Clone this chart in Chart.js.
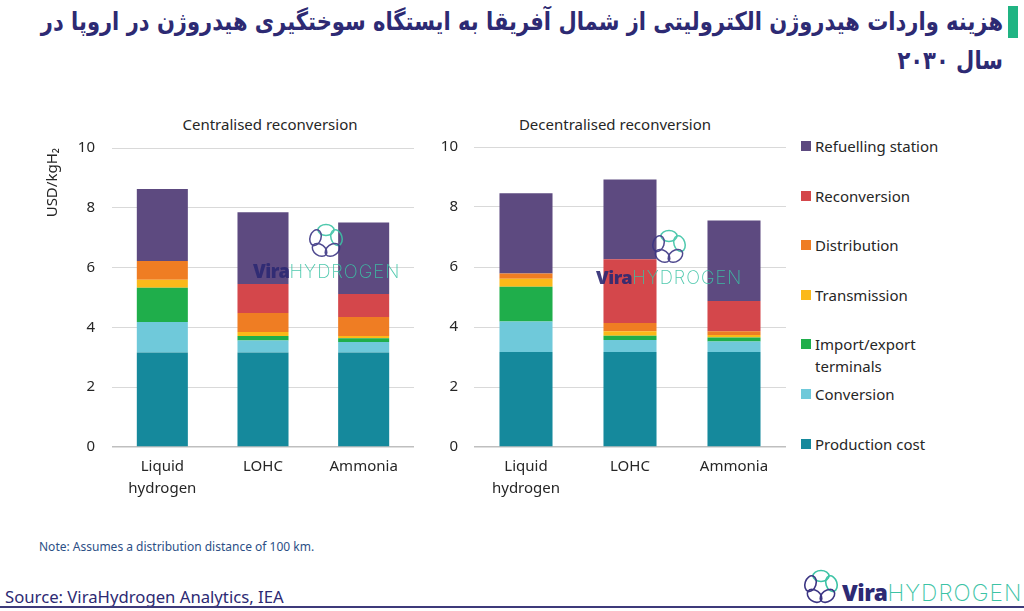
<!DOCTYPE html>
<html>
<head>
<meta charset="utf-8">
<script src="https://cdn.jsdelivr.net/npm/chart.js@4.4.1/dist/chart.umd.min.js"></script>
<style>
  html, body { margin:0; padding:0; background:#fff; }
  body { width:1024px; height:611px; position:relative; overflow:hidden; font-family:"Noto Sans", sans-serif; }
  .abs { position:absolute; }
  #title { right:21px; top:6px; direction:rtl; text-align:right; font-family:"DejaVu Sans", sans-serif; font-weight:bold; font-size:22px; line-height:31.7px; color:#2d2a73; white-space:nowrap; transform:scaleY(1.2); transform-origin:50% 15.8px; }
  #title span { display:block; }
  #bar { left:1008px; top:6px; width:10px; height:32px; background:#20b483; }
  .ctitle { font-size:15px; color:#262626; white-space:nowrap; transform:translateX(-50%); top:114px; }
  #legend { left:801px; top:135px; width:220px; }
  .li { position:relative; height:49.6px; font-size:15px; line-height:22px; color:#262626; }
  .li .sw { position:absolute; left:0; top:6px; width:10px; height:10px; }
  .li .tx { position:absolute; left:14px; top:0; width:150px; }
  #note { left:39px; top:538px; font-size:12px; color:#2c4f86; font-family:"Liberation Sans Narrow","Noto Sans",sans-serif; white-space:nowrap; }
  #source { left:5px; top:585px; font-size:16.7px; color:#2d2a73; white-space:nowrap; }
  #rule { left:0; top:606px; width:1024px; height:2px; background:#3d3a7a; }
  .wm { white-space:nowrap; line-height:1; }
  .vira { font-family:"Noto Sans",sans-serif; font-weight:900; color:#2d2a73; letter-spacing:-0.5px; }
  .hyd { font-family:"Inter","Lato",sans-serif; font-weight:200; color:#3cc3a5; letter-spacing:1px; }
</style>
</head>
<body>
<div id="title" class="abs"><span id="t1">هزینه واردات هیدروژن الکترولیتی از شمال آفریقا به ایستگاه سوختگیری هیدروژن در اروپا در</span><span>سال ۲۰۳۰</span></div>
<div id="bar" class="abs"></div>

<div class="abs ctitle" style="left:270px;">Centralised reconversion</div>
<div class="abs ctitle" style="left:615px;">Decentralised reconversion</div>

<div class="abs" style="left:0;top:122px;width:420px;height:385px;"><canvas id="c1" width="420" height="385"></canvas></div>
<div class="abs" style="left:430px;top:122px;width:360px;height:385px;"><canvas id="c2" width="360" height="385"></canvas></div>

<div id="legend" class="abs"></div>

<!-- watermarks -->
<svg class="abs" style="left:306px;top:221px;opacity:0.9" width="40" height="40" viewBox="0 0 40 40"><g class="pent" fill="none" stroke-width="1.5"></g></svg>
<div class="abs wm" data-w="147" style="left:253px;top:262px;opacity:0.9;font-size:20px;"><span class="vira">Vira</span><span class="hyd">HYDROGEN</span></div>
<svg class="abs" style="left:649px;top:227px;opacity:0.9" width="40" height="40" viewBox="0 0 40 40"><g class="pent" fill="none" stroke-width="1.5"></g></svg>
<div class="abs wm" data-w="146" style="left:596px;top:268px;opacity:0.9;font-size:20px;"><span class="vira">Vira</span><span class="hyd">HYDROGEN</span></div>

<div id="note" class="abs">Note: Assumes a distribution distance of 100 km.</div>
<div id="source" class="abs">Source: ViraHydrogen Analytics, IEA</div>
<svg class="abs" style="left:801px;top:567px;" width="40" height="40" viewBox="0 0 40 40"><g class="pent" fill="none" stroke-width="1.6"></g></svg>
<div class="abs wm" data-w="180" style="left:842px;top:582px;font-size:24px;"><span class="vira">Vira</span><span class="hyd">HYDROGEN</span></div>
<div id="rule" class="abs"></div>

<script>
// ---- data ----
const categories = [["Liquid", "hydrogen"], "LOHC", "Ammonia"];
const seriesNames = ["Production cost", "Conversion", "Import/export terminals", "Transmission", "Distribution", "Reconversion", "Refuelling station"];
const seriesColors = ["#15899c", "#6fc9da", "#1fae4b", "#fbb919", "#ef7d23", "#d4474b", "#5d4a80"];
const yTicks = [0, 2, 4, 6, 8, 10];

// Centralised reconversion (USD/kgH2)
const productionCentral   = [3.16, 3.16, 3.16];
const conversionCentral   = [1.02, 0.40, 0.35];
const importExportCentral = [1.15, 0.15, 0.13];
const transmissionCentral = [0.26, 0.14, 0.07];
const distributionCentral = [0.63, 0.63, 0.64];
const reconversionCentral = [0.00, 0.97, 0.77];
const refuellingCentral   = [2.41, 2.40, 2.39];

// Decentralised reconversion (USD/kgH2)
const productionDecentral   = [3.17, 3.17, 3.17];
const conversionDecentral   = [1.01, 0.40, 0.35];
const importExportDecentral = [1.16, 0.14, 0.13];
const transmissionDecentral = [0.27, 0.15, 0.08];
const distributionDecentral = [0.17, 0.27, 0.13];
const reconversionDecentral = [0.00, 2.13, 1.01];
const refuellingDecentral   = [2.68, 2.66, 2.68];

const centralSeries = [productionCentral, conversionCentral, importExportCentral, transmissionCentral, distributionCentral, reconversionCentral, refuellingCentral];
const decentralSeries = [productionDecentral, conversionDecentral, importExportDecentral, transmissionDecentral, distributionDecentral, reconversionDecentral, refuellingDecentral];

const FONT = "'Noto Sans', sans-serif";

function makeChart(id, seriesData, opts) {
  const datasets = seriesData.map((vals, i) => ({
    label: seriesNames[i],
    data: vals,
    backgroundColor: seriesColors[i],
    borderWidth: 0,
    barPercentage: opts.barPct,
    categoryPercentage: 1.0
  }));
  return new Chart(document.getElementById(id), {
    type: 'bar',
    data: { labels: categories, datasets },
    options: {
      responsive: false,
      animation: false,
      layout: { padding: { top: 8, right: opts.padRight, left: 0, bottom: 0 } },
      plugins: { legend: { display: false }, tooltip: { enabled: false }, title: { display: false } },
      scales: {
        x: {
          stacked: true,
          grid: { display: false },
          border: { display: false },
          ticks: { color: '#262626', font: { family: FONT, size: 15, lineHeight: 1.45 }, padding: 1, maxRotation: 0, autoSkip: false },
          afterFit: (s) => { s.height = 60; }
        },
        y: {
          stacked: true,
          min: 0, max: 10,
          afterBuildTicks: (s) => { s.ticks = yTicks.map(v => ({ value: v })); },
          grid: { color: (ctx) => ctx.tick && ctx.tick.value === 0 ? '#bfbfbf' : '#d9d9d9', lineWidth: (ctx) => ctx.tick && ctx.tick.value === 0 ? 1.5 : 1, drawTicks: false },
          border: { display: false },
          ticks: { color: '#262626', font: { family: FONT, size: 15 }, padding: opts.tickPad },
          title: opts.yTitle ? { display: true, text: 'USD/kgH₂', align: 'end', color: '#262626', font: { family: FONT, size: 15 }, padding: { top: 44, bottom: 0 } } : { display: false },
          afterFit: (s) => { s.width = opts.yWidth; }
        }
      }
    }
  });
}

makeChart('c1', centralSeries, { barPct: 0.507, padRight: 6, yWidth: 112, tickPad: 17, yTitle: true });
makeChart('c2', decentralSeries, { barPct: 0.51, padRight: 4, yWidth: 44, tickPad: 16, yTitle: false });

// legend (reverse order, top = Refuelling station)
const legend = document.getElementById('legend');
for (let i = seriesNames.length - 1; i >= 0; i--) {
  const li = document.createElement('div');
  li.className = 'li';
  li.innerHTML = '<span class="sw" style="background:' + seriesColors[i] + '"></span><span class="tx">' + seriesNames[i] + '</span>';
  legend.appendChild(li);
}

// fit title line 1 to its width in the reference
(function () {
  const t1 = document.getElementById('t1');
  t1.style.display = 'inline-block';
  const w = t1.getBoundingClientRect().width;
  const title = document.getElementById('title');
  title.style.fontSize = (22 * 963 / w) + 'px';
  t1.style.display = 'block';
})();

// fit decorative logo texts
document.querySelectorAll('[data-w]').forEach(el => {
  el.style.display = 'inline-block';
  const w = el.getBoundingClientRect().width;
  const fs = parseFloat(el.style.fontSize);
  el.style.fontSize = (fs * parseFloat(el.dataset.w) / w) + 'px';
});

// logo pentagon rings (decorative)
function pent(g) {
  const ns = 'http://www.w3.org/2000/svg';
  for (let k = 0; k < 5; k++) {
    const a = -90 + k * 72;
    const r = 11;
    const cx = 20 + r * Math.cos(a * Math.PI / 180);
    const cy = 20 + r * Math.sin(a * Math.PI / 180);
    const e = document.createElementNS(ns, 'ellipse');
    e.setAttribute('cx', cx); e.setAttribute('cy', cy);
    e.setAttribute('rx', 8); e.setAttribute('ry', 5.5);
    e.setAttribute('transform', 'rotate(' + (a + 90) + ' ' + cx + ' ' + cy + ')');
    e.setAttribute('stroke', k === 0 || k === 1 ? '#3cc3a5' : '#3b3583');
    g.appendChild(e);
  }
}
document.querySelectorAll('.pent').forEach(pent);
</script>
</body>
</html>
